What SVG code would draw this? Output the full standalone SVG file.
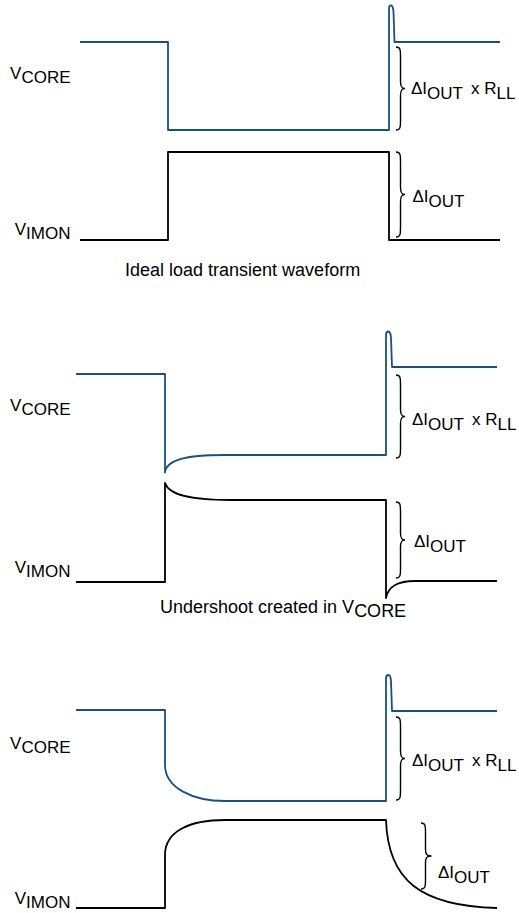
<svg xmlns="http://www.w3.org/2000/svg" width="519" height="913" viewBox="0 0 519 913">
<style>
.w{fill:none;stroke-width:1.8;stroke-linejoin:round}
.b{stroke:#1c4f80}
.k{stroke:#000}
.br{fill:none;stroke:#000;stroke-width:1.4}
text{font-family:"Liberation Sans",Arial,sans-serif;fill:#000}
.lb{font-size:17px}
.cap{font-size:18px}
</style>
<rect width="519" height="913" fill="#fff"/>
<g id="panel1">
  <g id="p1-vcore"><path class="w b" d="M80,42 L168,42 L168,130 L389,130 L389,9 Q389,5.5 391,5.5 Q393,5.5 393.5,12 L394.5,42 L500,42"/></g>
  <g id="p1-vimon"><path class="w k" d="M80,240 L168,240 L168,152 L389,152 L389,240 L500,240"/></g>
  <g id="p1-labels">
    <text class="lb" x="70.5" y="78.5" text-anchor="end">V<tspan dy="4">CORE</tspan></text>
    <text class="lb" x="70.5" y="235" text-anchor="end">V<tspan dy="4">IMON</tspan></text>
    <text class="lb" x="411" y="94">ΔI<tspan dy="5">OUT</tspan><tspan dy="-5" dx="8">x R</tspan><tspan dy="5">LL</tspan></text>
    <text class="lb" x="412.5" y="202">ΔI<tspan dy="5">OUT</tspan></text>
    <text class="cap" x="125" y="276">Ideal load transient waveform</text>
  </g>
  <g id="p1-braces">
    <path class="br" d="M396,47 C400.5,47 400.5,50 400.5,57 L400.5,81 C400.5,86.5 401.5,88.5 405,88.5 C401.5,88.5 400.5,90.5 400.5,96 L400.5,120 C400.5,127 400.5,130 396,130"/>
    <path class="br" d="M396,152 C400.5,152 400.5,155 400.5,162 L400.5,187 C400.5,192.5 401.5,194.5 405,194.5 C401.5,194.5 400.5,196.5 400.5,202 L400.5,227 C400.5,234 400.5,237 396,237"/>
  </g>
</g>
<g id="panel2">
  <g id="p2-vcore"><path class="w b" d="M76,374 L165,374 L165,472.5 C166,460 185,455 225,455 L386,455 L386,335 Q386,331.5 388.5,331.5 Q390.5,331.5 391,338 L392,367 L497,367"/></g>
  <g id="p2-vimon"><path class="w k" d="M76,582 L165,582 L165,483 C169,495 190,500 230,500 L386,500 L386,598 C388,588 395,581 415,581 L497,581"/></g>
  <g id="p2-labels">
    <text class="lb" x="70.5" y="410.5" text-anchor="end">V<tspan dy="4">CORE</tspan></text>
    <text class="lb" x="70.5" y="573" text-anchor="end">V<tspan dy="4">IMON</tspan></text>
    <text class="lb" x="412" y="425">ΔI<tspan dy="5">OUT</tspan><tspan dy="-5" dx="8">x R</tspan><tspan dy="5">LL</tspan></text>
    <text class="lb" x="414" y="546.5">ΔI<tspan dy="5">OUT</tspan></text>
    <text class="cap" x="160" y="613">Undershoot created in V<tspan dy="4">CORE</tspan></text>
  </g>
  <g id="p2-braces">
    <path class="br" d="M396,375 C400.5,375 400.5,378 400.5,385 L400.5,409 C400.5,414.5 401.5,416.5 405,416.5 C401.5,416.5 400.5,418.5 400.5,424 L400.5,448 C400.5,455 400.5,458 396,458"/>
    <path class="br" d="M396,502 C400.5,502 400.5,505 400.5,512 L400.5,533 C400.5,538 401.5,540 405,540 C401.5,540 400.5,542 400.5,547 L400.5,568 C400.5,575 400.5,578 396,578"/>
  </g>
</g>
<g id="panel3">
  <g id="p3-vcore"><path class="w b" d="M76,710 L165,710 L165,765 C165,788 193,801 225,801 L386,801 L386,678.5 Q386,675 388.5,675 Q390.5,675 391,681 L392,711 L497,711"/></g>
  <g id="p3-vimon"><path class="w k" d="M76,908 L165,908 L165,855 C165,831 190,820 225,820 L386,820 C388,880 420,906 497,908"/></g>
  <g id="p3-labels">
    <text class="lb" x="70.5" y="749" text-anchor="end">V<tspan dy="4">CORE</tspan></text>
    <text class="lb" x="70.5" y="904" text-anchor="end">V<tspan dy="4">IMON</tspan></text>
    <text class="lb" x="412" y="766">ΔI<tspan dy="5">OUT</tspan><tspan dy="-5" dx="8">x R</tspan><tspan dy="5">LL</tspan></text>
    <text class="lb" x="438" y="878">ΔI<tspan dy="5">OUT</tspan></text>
  </g>
  <g id="p3-braces">
    <path class="br" d="M396,717 C400.5,717 400.5,720 400.5,727 L400.5,751 C400.5,756.5 401.5,758.5 405,758.5 C401.5,758.5 400.5,760.5 400.5,766 L400.5,790 C400.5,797 400.5,800 396,800"/>
    <path class="br" d="M421,823 C425.5,823 425.5,826 425.5,833 L425.5,849 C425.5,854 426.5,856 431.5,856 C426.5,856 425.5,858 425.5,863 L425.5,879 C425.5,886 425.5,889 421,889"/>
  </g>
</g>
</svg>
